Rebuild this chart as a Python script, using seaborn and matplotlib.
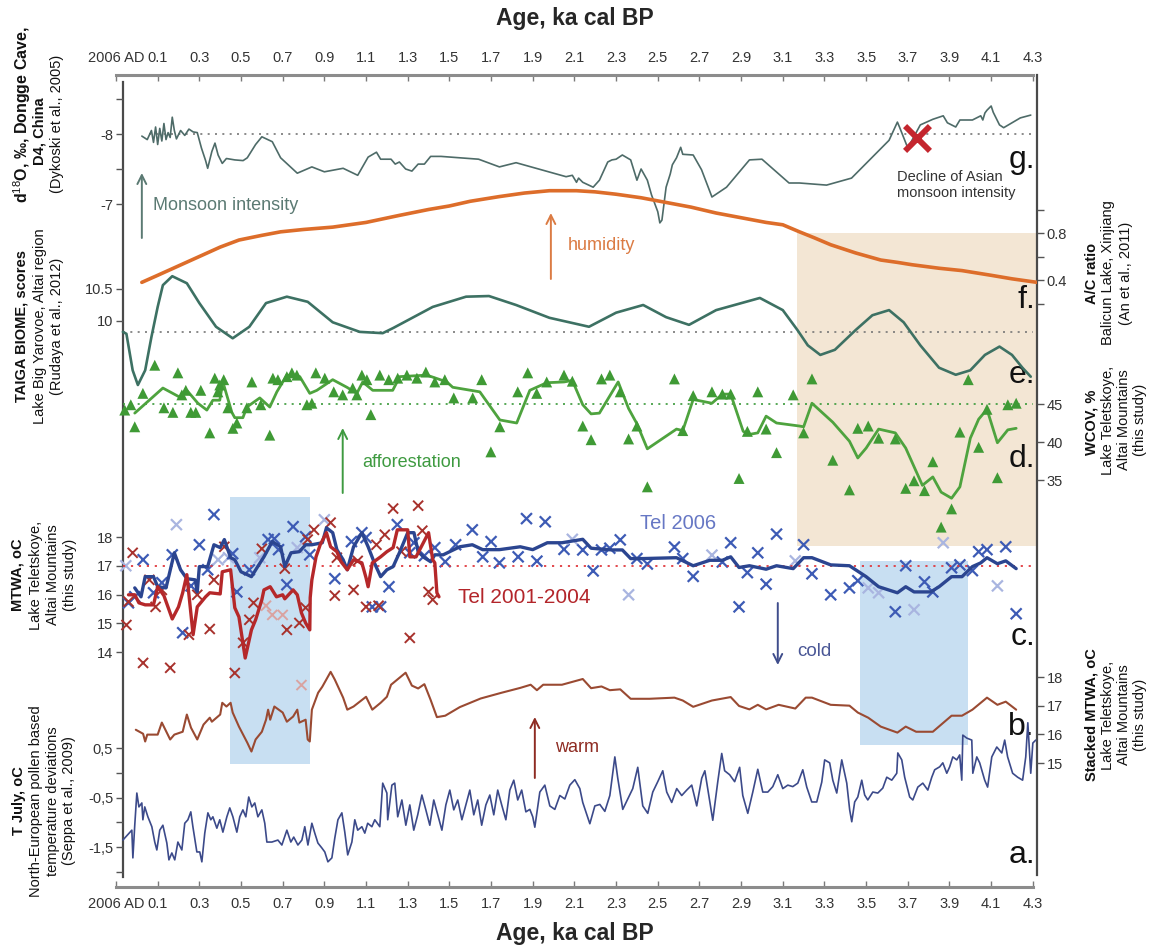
import numpy as np
import pandas as pd
import seaborn as sns
import matplotlib
matplotlib.use("Agg")
from matplotlib import pyplot as plt

# ---------------- data (ages in ka cal BP) ----------------
age_ticks = [-0.1, 0.1, 0.3, 0.5, 0.7, 0.9, 1.1, 1.3, 1.5, 1.7, 1.9, 2.1, 2.3,
             2.5, 2.7, 2.9, 3.1, 3.3, 3.5, 3.7, 3.9, 4.1, 4.3]
age_tick_labels = ["2006 AD"] + ["%.1f" % a for a in age_ticks[1:]]

# g. d18O Dongge Cave
g_d18o = np.array([
    [0.024, -7.97], [0.05, -7.92], [0.07, -8.05], [0.08, -7.88], [0.09, -8.10], [0.10, -7.85],
    [0.11, -8.08], [0.12, -7.90], [0.13, -8.15], [0.14, -7.92], [0.15, -8.02], [0.16, -7.95],
    [0.17, -8.24], [0.18, -8.05], [0.19, -7.93], [0.21, -8.05], [0.23, -7.98], [0.25, -8.07],
    [0.27, -8.03], [0.29, -8.02], [0.31, -7.80], [0.33, -7.62], [0.34, -7.51], [0.36, -7.75],
    [0.375, -7.87], [0.39, -7.70], [0.41, -7.58], [0.43, -7.65], [0.47, -7.63], [0.51, -7.62],
    [0.53, -7.66], [0.57, -7.85], [0.60, -7.96], [0.65, -7.89], [0.69, -7.66], [0.77, -7.44],
    [0.84, -7.53], [0.90, -7.46], [0.99, -7.51], [1.06, -7.41], [1.11, -7.67], [1.15, -7.74],
    [1.17, -7.64], [1.22, -7.64], [1.24, -7.57], [1.26, -7.60], [1.29, -7.50], [1.32, -7.47],
    [1.35, -7.57], [1.38, -7.57], [1.41, -7.68], [1.46, -7.68], [1.64, -7.64], [1.74, -7.53],
    [1.82, -7.59], [2.06, -7.39], [2.09, -7.41], [2.11, -7.31], [2.12, -7.37], [2.14, -7.31],
    [2.19, -7.24], [2.22, -7.34], [2.26, -7.60], [2.28, -7.63], [2.30, -7.64], [2.33, -7.70],
    [2.37, -7.63], [2.40, -7.34], [2.42, -7.50], [2.45, -7.34], [2.47, -7.13], [2.50, -6.89],
    [2.51, -6.73], [2.52, -6.77], [2.54, -7.24], [2.56, -7.43], [2.57, -7.56], [2.59, -7.66],
    [2.61, -7.81], [2.62, -7.71], [2.67, -7.70], [2.71, -7.49], [2.76, -7.10], [2.83, -7.24],
    [2.94, -7.63], [3.00, -7.64], [3.13, -7.30], [3.18, -7.30], [3.31, -7.27], [3.43, -7.37],
    [3.61, -7.91], [3.65, -8.17], [3.66, -8.10], [3.70, -7.80], [3.76, -8.13], [3.82, -8.21],
    [3.87, -8.26], [3.89, -8.16], [3.93, -8.10], [3.95, -8.20], [4.01, -8.20], [4.05, -8.26],
    [4.06, -8.20], [4.07, -8.30], [4.08, -8.34], [4.10, -8.40], [4.11, -8.31], [4.14, -8.13],
    [4.16, -8.09], [4.24, -8.23], [4.29, -8.27]])
g_ref = -8.0
decline_marker = [3.745, -7.94]

# f. A/C ratio Balicun Lake
f_ac = np.array([
    [0.024, 0.38], [0.1, 0.44], [0.2, 0.52], [0.3, 0.60], [0.4, 0.68], [0.49, 0.74], [0.6, 0.78],
    [0.69, 0.81], [0.8, 0.83], [0.94, 0.85], [1.1, 0.89], [1.26, 0.95], [1.4, 1.00], [1.5, 1.03],
    [1.6, 1.07], [1.74, 1.11], [1.86, 1.14], [1.98, 1.16], [2.11, 1.16], [2.2, 1.15], [2.3, 1.13],
    [2.42, 1.10], [2.54, 1.06], [2.66, 1.02], [2.78, 0.97], [2.9, 0.93], [3.02, 0.89], [3.1, 0.87],
    [3.18, 0.81], [3.25, 0.76], [3.33, 0.70], [3.45, 0.63], [3.57, 0.57], [3.65, 0.55],
    [3.72, 0.53], [3.85, 0.50], [3.96, 0.48], [4.1, 0.44], [4.2, 0.41], [4.32, 0.38]])

# e. TAIGA biome scores
e_taiga = np.array([
    [-0.067, 9.83], [-0.05, 9.80], [-0.02, 9.23], [0.005, 9.00], [0.04, 9.23], [0.07, 9.75],
    [0.10, 10.22], [0.125, 10.56], [0.17, 10.70], [0.24, 10.59], [0.30, 10.28], [0.38, 9.91],
    [0.46, 9.73], [0.54, 9.91], [0.62, 10.28], [0.72, 10.38], [0.82, 10.30], [0.94, 9.98],
    [1.07, 9.83], [1.18, 9.81], [1.23, 9.89], [1.42, 10.22], [1.58, 10.38], [1.69, 10.39],
    [1.82, 10.25], [1.98, 10.05], [2.17, 9.91], [2.30, 10.13], [2.43, 10.25], [2.54, 10.06],
    [2.65, 9.94], [2.78, 10.17], [2.99, 10.36], [3.10, 10.17], [3.17, 9.86], [3.22, 9.62],
    [3.28, 9.47], [3.35, 9.55], [3.45, 9.86], [3.53, 10.09], [3.61, 10.17], [3.68, 9.98],
    [3.76, 9.62], [3.85, 9.27], [3.93, 9.16], [4.00, 9.23], [4.07, 9.47], [4.14, 9.60],
    [4.20, 9.47], [4.25, 9.27], [4.29, 9.13]])
e_ref = 9.83

# d. WCOV % samples and smoothed curve
d_points = np.array([
    [-0.058, 44.2], [-0.029, 44.9], [-0.010, 42.0], [0.029, 46.4], [0.086, 50.1], [0.130, 44.5],
    [0.173, 43.9], [0.197, 49.1], [0.216, 46.2], [0.235, 46.8], [0.259, 43.9], [0.283, 43.9],
    [0.307, 46.8], [0.350, 41.2], [0.374, 48.4], [0.389, 46.6], [0.398, 47.5], [0.417, 48.2],
    [0.437, 44.5], [0.461, 41.8], [0.480, 42.5], [0.528, 44.5], [0.552, 47.9], [0.595, 44.9],
    [0.638, 40.9], [0.653, 48.4], [0.677, 48.2], [0.720, 48.6], [0.744, 49.1], [0.768, 48.8],
    [0.816, 44.9], [0.840, 45.1], [0.859, 49.1], [0.902, 48.4], [0.945, 46.6], [0.988, 46.2],
    [1.036, 47.1], [1.056, 46.2], [1.080, 48.8], [1.104, 48.2], [1.123, 43.6], [1.166, 48.8],
    [1.209, 48.2], [1.252, 48.4], [1.296, 48.8], [1.344, 48.4], [1.387, 49.2], [1.430, 47.9],
    [1.478, 48.2], [1.521, 45.8], [1.612, 45.8], [1.655, 48.2], [1.699, 38.7], [1.742, 42.0],
    [1.828, 46.6], [1.876, 49.1], [1.919, 46.4], [1.967, 47.9], [2.05, 48.8], [2.09, 48.0],
    [2.14, 42.1], [2.18, 40.3], [2.23, 48.3], [2.27, 48.8], [2.32, 46.6], [2.36, 40.4],
    [2.40, 42.1], [2.45, 34.1], [2.58, 48.3], [2.62, 41.5], [2.67, 46.1], [2.76, 46.6],
    [2.81, 46.3], [2.85, 46.3], [2.89, 35.2], [2.93, 41.4], [2.98, 46.6], [3.02, 41.7],
    [3.07, 38.6], [3.15, 46.2], [3.20, 41.2], [3.24, 48.3], [3.34, 37.6], [3.42, 33.7],
    [3.46, 41.8], [3.51, 42.1], [3.56, 40.5], [3.64, 40.4], [3.69, 33.9], [3.73, 34.9],
    [3.78, 33.6], [3.82, 37.4], [3.86, 28.8], [3.91, 31.2], [3.95, 41.3], [3.99, 48.2],
    [4.04, 39.3], [4.08, 44.3], [4.13, 35.3], [4.18, 44.9], [4.22, 45.1]])
d_curve = np.array([
    [-0.010, 43.8], [0.125, 47.1], [0.206, 45.9], [0.240, 46.8], [0.293, 45.1], [0.336, 44.2],
    [0.365, 45.5], [0.398, 45.5], [0.413, 47.9], [0.456, 43.9], [0.470, 43.2], [0.509, 43.2],
    [0.528, 44.6], [0.590, 45.8], [0.638, 44.6], [0.672, 46.6], [0.720, 48.8], [0.782, 48.6],
    [0.830, 46.4], [0.864, 46.8], [0.940, 48.2], [1.008, 47.2], [1.056, 46.4], [1.084, 47.9],
    [1.132, 46.8], [1.228, 46.8], [1.262, 48.6], [1.392, 48.8], [1.488, 47.9], [1.516, 47.2],
    [1.646, 46.6], [1.742, 42.9], [1.823, 42.5], [1.886, 46.8], [1.967, 47.8], [2.05, 47.9],
    [2.09, 48.1], [2.14, 44.9], [2.18, 43.7], [2.22, 43.8], [2.31, 47.9], [2.36, 44.4],
    [2.40, 42.4], [2.45, 39.1], [2.59, 41.7], [2.62, 41.5], [2.67, 45.6], [2.76, 45.1],
    [2.81, 46.3], [2.85, 46.3], [2.91, 41.4], [2.94, 41.0], [2.98, 41.2], [3.02, 43.4],
    [3.07, 42.5], [3.18, 42.1], [3.20, 42.0], [3.24, 45.1], [3.34, 42.6], [3.42, 40.1],
    [3.46, 37.9], [3.50, 39.2], [3.56, 41.7], [3.64, 41.2], [3.69, 39.2], [3.77, 34.3],
    [3.82, 35.4], [3.86, 33.4], [3.91, 32.6], [3.95, 34.1], [4.00, 40.5], [4.04, 43.0],
    [4.08, 44.3], [4.13, 39.9], [4.18, 41.6], [4.22, 41.8]])
d_ref = 45.0

# c. MTWA Lake Teletskoye: crosses (age, value, faint?) and running curves
tel2006_pts = np.array([
    [-0.053, 17.0, 1], [-0.04, 15.71, 0], [-0.01, 15.92, 0], [0.03, 17.21, 0], [0.08, 16.06, 0],
    [0.12, 16.41, 0], [0.17, 17.38, 0], [0.19, 18.43, 1], [0.22, 14.67, 0], [0.26, 16.30, 0],
    [0.30, 17.73, 0], [0.34, 16.86, 0], [0.37, 18.78, 0], [0.39, 17.21, 1], [0.44, 17.28, 1],
    [0.46, 17.42, 0], [0.48, 16.09, 0], [0.54, 16.86, 0], [0.59, 17.28, 1], [0.63, 17.91, 0],
    [0.66, 17.94, 0], [0.68, 17.56, 0], [0.72, 16.34, 0], [0.75, 18.36, 0], [0.77, 17.63, 1],
    [0.81, 18.01, 0], [0.83, 17.38, 0], [0.90, 18.60, 1], [0.95, 16.55, 0], [1.03, 17.84, 0],
    [1.08, 18.15, 0], [1.10, 17.98, 0], [1.13, 15.57, 0], [1.17, 15.57, 0], [1.21, 16.27, 0],
    [1.25, 18.43, 0], [1.31, 17.45, 0], [1.33, 17.80, 0], [1.38, 17.35, 0], [1.43, 17.63, 0],
    [1.48, 17.14, 0], [1.53, 17.73, 0], [1.61, 18.25, 0], [1.66, 17.31, 0], [1.70, 17.84, 0],
    [1.74, 17.10, 0], [1.83, 17.31, 0], [1.87, 18.64, 0], [1.92, 17.16, 0], [1.96, 18.53, 0],
    [2.05, 17.57, 0], [2.09, 17.92, 1], [2.14, 17.55, 0], [2.19, 16.82, 0], [2.23, 17.55, 0],
    [2.27, 17.61, 0], [2.32, 17.90, 0], [2.36, 15.99, 1], [2.40, 17.25, 0], [2.45, 17.06, 0],
    [2.58, 17.65, 0], [2.62, 17.25, 0], [2.67, 16.63, 0], [2.76, 17.37, 1], [2.81, 17.13, 0],
    [2.85, 17.80, 0], [2.89, 15.57, 0], [2.93, 16.76, 0], [2.98, 17.45, 0], [3.02, 16.36, 0],
    [3.07, 18.10, 0], [3.16, 17.17, 1], [3.20, 17.73, 0], [3.24, 16.72, 0], [3.33, 15.99, 0],
    [3.42, 16.23, 0], [3.46, 16.48, 0], [3.51, 16.23, 1], [3.56, 16.06, 1], [3.64, 15.40, 0],
    [3.69, 17.00, 0], [3.73, 15.47, 1], [3.78, 16.44, 0], [3.82, 16.09, 0], [3.87, 17.80, 1],
    [3.91, 16.93, 0], [3.95, 17.03, 0], [4.01, 16.83, 0], [4.04, 17.49, 0], [4.08, 17.56, 0],
    [4.13, 16.30, 1], [4.17, 17.66, 0], [4.22, 15.33, 0]])
tel2001_pts = np.array([
    [-0.05, 14.94, 0], [-0.04, 15.75, 0], [-0.02, 17.45, 0], [0.03, 13.62, 0], [0.06, 16.51, 0],
    [0.09, 15.57, 0], [0.12, 16.16, 0], [0.16, 13.45, 0], [0.25, 14.60, 0], [0.29, 15.99, 0],
    [0.35, 14.80, 0], [0.37, 16.51, 0], [0.42, 17.66, 0], [0.47, 13.27, 0], [0.51, 14.32, 0],
    [0.54, 15.12, 0], [0.56, 15.71, 0], [0.60, 17.59, 0], [0.62, 15.61, 1], [0.65, 15.29, 1],
    [0.70, 15.29, 1], [0.71, 16.90, 0], [0.72, 14.77, 0], [0.78, 15.01, 0], [0.79, 12.85, 1],
    [0.81, 15.54, 0], [0.82, 17.91, 0], [0.85, 18.25, 0], [0.93, 18.50, 0], [0.95, 15.96, 0],
    [0.96, 17.28, 0], [1.04, 16.16, 0], [1.06, 17.17, 0], [1.10, 15.57, 0], [1.15, 17.73, 0],
    [1.16, 15.61, 0], [1.19, 18.08, 0], [1.23, 18.99, 0], [1.27, 17.49, 0], [1.31, 14.49, 0],
    [1.35, 19.09, 0], [1.37, 18.22, 0], [1.40, 16.09, 0], [1.42, 15.82, 0]])
tel2006_curve = np.array([
    [-0.01, 16.23], [0.02, 15.92], [0.04, 16.62], [0.08, 16.62], [0.10, 16.27], [0.14, 16.23],
    [0.18, 17.45], [0.21, 16.86], [0.24, 16.55], [0.28, 16.51], [0.29, 16.09], [0.30, 16.97],
    [0.34, 16.97], [0.37, 17.73], [0.40, 17.63], [0.42, 17.91], [0.45, 17.28], [0.47, 17.21],
    [0.50, 16.79], [0.53, 16.69], [0.55, 16.62], [0.58, 16.97], [0.61, 17.31], [0.65, 17.84],
    [0.69, 17.66], [0.71, 16.97], [0.74, 17.45], [0.78, 17.49], [0.81, 17.73], [0.84, 17.73],
    [0.89, 17.80], [0.91, 18.32], [0.94, 18.15], [0.96, 17.56], [0.99, 17.21], [1.01, 16.86],
    [1.04, 17.66], [1.08, 18.15], [1.11, 17.66], [1.14, 17.10], [1.17, 16.62], [1.20, 16.86],
    [1.23, 16.97], [1.26, 17.45], [1.30, 18.15], [1.33, 18.15], [1.35, 17.49], [1.38, 17.28],
    [1.41, 17.14], [1.43, 17.38], [1.47, 17.38], [1.55, 17.66], [1.61, 17.73], [1.66, 17.56],
    [1.74, 17.56], [1.84, 17.66], [1.90, 17.56], [1.97, 17.80], [2.04, 17.80], [2.14, 17.92],
    [2.18, 17.61], [2.28, 17.55], [2.33, 17.55], [2.37, 17.25], [2.43, 17.25], [2.59, 17.28],
    [2.67, 17.00], [2.75, 17.19], [2.81, 17.19], [2.85, 17.31], [2.89, 16.94], [2.94, 17.00],
    [3.02, 16.88], [3.07, 17.00], [3.15, 16.90], [3.20, 17.28], [3.24, 17.28], [3.33, 17.03],
    [3.42, 17.00], [3.50, 16.62], [3.56, 16.27], [3.65, 16.06], [3.69, 16.27], [3.73, 16.09],
    [3.81, 16.09], [3.85, 16.27], [3.91, 16.62], [3.96, 16.62], [4.01, 16.97], [4.05, 17.10],
    [4.08, 17.28], [4.13, 17.07], [4.17, 17.17], [4.22, 16.90]])
tel2001_curve = np.array([
    [-0.04, 15.99], [-0.01, 15.99], [0.01, 15.71], [0.04, 15.64], [0.08, 15.64], [0.10, 16.27],
    [0.13, 15.96], [0.17, 15.15], [0.20, 15.57], [0.22, 16.06], [0.24, 16.69], [0.27, 14.60],
    [0.29, 15.57], [0.33, 15.92], [0.35, 16.06], [0.40, 16.02], [0.41, 16.79], [0.45, 16.86],
    [0.47, 15.54], [0.49, 15.22], [0.52, 13.79], [0.55, 14.77], [0.57, 15.12], [0.60, 15.82],
    [0.61, 16.16], [0.64, 16.27], [0.67, 15.92], [0.70, 15.99], [0.71, 15.85], [0.75, 16.16],
    [0.77, 15.99], [0.79, 15.36], [0.81, 15.01], [0.83, 14.77], [0.832, 15.89], [0.84, 16.51],
    [0.86, 17.31], [0.88, 17.73], [0.91, 18.15], [0.93, 17.66], [0.96, 17.49], [0.98, 17.14],
    [1.01, 16.86], [1.04, 17.21], [1.08, 17.10], [1.10, 16.58], [1.11, 16.27], [1.13, 17.10],
    [1.17, 17.31], [1.20, 17.49], [1.23, 17.63], [1.25, 18.25], [1.30, 18.25], [1.31, 17.31],
    [1.34, 17.31], [1.37, 17.73], [1.40, 18.15], [1.42, 17.21], [1.43, 17.10], [1.44, 16.06],
    [1.45, 15.92]])
c_ref = 17.0

# b. stacked MTWA
b_stacked = np.array([
    [-0.005, 16.16], [0.03, 16.02], [0.04, 15.75], [0.05, 15.99], [0.10, 15.99], [0.12, 16.41],
    [0.16, 15.82], [0.18, 15.99], [0.22, 16.09], [0.24, 16.69], [0.26, 16.23], [0.29, 15.82],
    [0.32, 16.34], [0.35, 16.58], [0.36, 16.44], [0.40, 16.69], [0.41, 17.10], [0.43, 16.97],
    [0.45, 17.10], [0.46, 16.76], [0.49, 16.27], [0.53, 15.71], [0.55, 15.40], [0.57, 15.82],
    [0.60, 16.09], [0.62, 16.51], [0.63, 16.86], [0.64, 16.51], [0.66, 16.97], [0.70, 16.76],
    [0.72, 16.44], [0.75, 16.62], [0.77, 16.86], [0.78, 16.41], [0.81, 16.51], [0.82, 15.82],
    [0.83, 15.75], [0.84, 16.86], [0.87, 17.45], [0.89, 17.66], [0.93, 18.18], [0.95, 17.91],
    [0.99, 17.28], [1.01, 16.86], [1.04, 16.97], [1.07, 17.14], [1.10, 17.31], [1.13, 16.86],
    [1.17, 17.10], [1.20, 17.31], [1.22, 17.73], [1.25, 17.91], [1.29, 18.15], [1.32, 17.70],
    [1.35, 17.60], [1.38, 17.75], [1.41, 17.20], [1.44, 16.60], [1.48, 16.65], [1.55, 16.95],
    [1.65, 17.25], [1.75, 17.45], [1.84, 17.62], [1.89, 17.73], [1.92, 17.54], [1.95, 17.73],
    [2.04, 17.73], [2.14, 17.93], [2.18, 17.61], [2.23, 17.67], [2.27, 17.54], [2.32, 17.57],
    [2.37, 17.24], [2.46, 17.24], [2.58, 17.28], [2.62, 17.18], [2.67, 16.96], [2.76, 17.18],
    [2.85, 17.30], [2.89, 16.99], [2.94, 16.87], [2.98, 17.03], [3.02, 16.87], [3.08, 17.03],
    [3.16, 16.90], [3.21, 17.28], [3.24, 17.28], [3.33, 17.03], [3.42, 17.00], [3.46, 16.76],
    [3.51, 16.58], [3.57, 16.27], [3.65, 16.06], [3.69, 16.27], [3.74, 16.09], [3.82, 16.09],
    [3.91, 16.65], [3.96, 16.65], [4.01, 16.86], [4.08, 17.28], [4.13, 17.03], [4.17, 17.14],
    [4.22, 16.86]])

# a. T July deviations, North-European pollen
a_tjuly = np.array([
    [-0.067, -1.36], [-0.024, -1.16], [-0.019, -1.72], [-0.010, -1.06], [0.0, -0.41], [0.010, -0.69],
    [0.024, -0.61], [0.029, -0.95], [0.038, -0.69], [0.053, -0.89], [0.072, -1.09], [0.086, -1.40],
    [0.096, -1.56], [0.110, -1.16], [0.125, -1.06], [0.144, -1.42], [0.154, -1.76], [0.168, -1.62],
    [0.182, -1.76], [0.197, -1.40], [0.216, -1.56], [0.230, -1.02], [0.245, -0.95], [0.259, -0.79],
    [0.269, -1.09], [0.288, -1.60], [0.302, -1.60], [0.312, -1.80], [0.326, -1.22], [0.341, -0.81],
    [0.355, -0.95], [0.365, -0.89], [0.384, -1.12], [0.398, -0.95], [0.413, -1.20], [0.432, -0.89],
    [0.446, -0.71], [0.461, -0.89], [0.480, -1.20], [0.494, -0.89], [0.509, -0.75], [0.523, -0.89],
    [0.537, -0.49], [0.552, -0.69], [0.566, -0.61], [0.581, -0.89], [0.600, -0.75], [0.614, -1.02],
    [0.624, -1.40], [0.648, -1.40], [0.677, -1.36], [0.696, -1.46], [0.720, -1.16], [0.739, -1.40],
    [0.753, -1.30], [0.773, -1.46], [0.792, -1.36], [0.806, -1.09], [0.821, -1.46], [0.840, -1.02],
    [0.854, -1.22], [0.869, -1.42], [0.888, -1.52], [0.902, -1.60], [0.917, -1.80], [0.936, -1.72],
    [0.950, -1.32], [0.965, -0.95], [0.984, -0.81], [0.998, -1.20], [1.012, -1.66], [1.032, -1.40],
    [1.046, -0.95], [1.060, -1.16], [1.080, -1.09], [1.094, -1.22], [1.108, -1.02], [1.128, -1.09],
    [1.142, -0.95], [1.166, -1.09], [1.180, -0.21], [1.200, -0.41], [1.204, -0.95], [1.224, -0.25],
    [1.238, -0.21], [1.252, -0.89], [1.272, -0.55], [1.291, -1.06], [1.310, -0.65], [1.329, -1.16],
    [1.348, -0.85], [1.368, -0.45], [1.387, -0.75], [1.406, -1.06], [1.425, -0.55], [1.444, -0.85],
    [1.464, -1.16], [1.483, -0.65], [1.502, -0.35], [1.521, -0.75], [1.540, -0.55], [1.560, -0.95],
    [1.579, -0.65], [1.598, -0.35], [1.617, -0.85], [1.636, -0.55], [1.655, -1.06], [1.675, -0.65],
    [1.694, -0.45], [1.713, -0.85], [1.732, -0.35], [1.751, -0.65], [1.771, -0.95], [1.790, -0.35],
    [1.809, -0.15], [1.828, -0.55], [1.847, -0.35], [1.867, -0.79], [1.886, -0.74], [1.900, -0.89],
    [1.910, -1.10], [1.934, -0.39], [1.958, -0.25], [1.982, -0.67], [2.006, -0.74], [2.030, -0.46],
    [2.054, -0.53], [2.078, -0.25], [2.102, -0.14], [2.126, -0.32], [2.140, -0.60], [2.174, -1.03],
    [2.198, -0.67], [2.222, -0.64], [2.246, -0.78], [2.270, -0.46], [2.294, 0.32], [2.308, -0.11],
    [2.332, -0.74], [2.356, -0.53], [2.380, -0.32], [2.404, 0.11], [2.428, -0.67], [2.452, -0.82],
    [2.476, -0.39], [2.500, -0.18], [2.524, 0.04], [2.543, -0.39], [2.567, -0.60], [2.591, -0.32],
    [2.615, -0.46], [2.639, -0.35], [2.663, -0.25], [2.687, -0.67], [2.711, -0.11], [2.726, 0.04],
    [2.750, -0.60], [2.764, -0.96], [2.788, -0.18], [2.807, 0.39], [2.821, 0.04], [2.845, -0.04],
    [2.869, -0.18], [2.893, 0.11], [2.908, -0.46], [2.932, -0.82], [2.956, -0.39], [2.980, 0.07],
    [3.004, -0.39], [3.028, -0.39], [3.052, -0.28], [3.076, -0.04], [3.100, -0.32], [3.124, -0.25],
    [3.148, -0.28], [3.172, -0.21], [3.196, 0.06], [3.215, -0.29], [3.239, -0.59], [3.263, -0.59],
    [3.287, -0.19], [3.301, 0.26], [3.325, 0.20], [3.340, -0.15], [3.359, -0.41], [3.383, 0.26],
    [3.407, -0.21], [3.421, -0.75], [3.431, -0.99], [3.445, -0.59], [3.460, -0.49], [3.479, -0.15],
    [3.493, -0.45], [3.508, -0.55], [3.532, -0.39], [3.556, -0.41], [3.580, -0.31], [3.599, -0.09],
    [3.623, -0.15], [3.647, -0.01], [3.652, 0.40], [3.671, 0.26], [3.685, -0.09], [3.709, -0.49],
    [3.724, -0.55], [3.748, -0.29], [3.772, -0.21], [3.796, -0.35], [3.815, -0.09], [3.829, 0.06],
    [3.853, 0.12], [3.868, 0.20], [3.887, -0.01], [3.901, 0.12], [3.916, 0.32], [3.935, 0.26],
    [3.949, 0.36], [3.959, -0.15], [3.964, 0.76], [3.983, 0.70], [4.007, 0.66], [4.012, -0.01],
    [4.031, 0.32], [4.045, 0.20], [4.069, -0.15], [4.083, -0.29], [4.103, 0.32], [4.127, 0.52],
    [4.151, 0.40], [4.165, 0.66], [4.179, 0.32], [4.203, -0.01], [4.227, -0.09], [4.251, -0.15],
    [4.266, 0.32], [4.276, 1.01], [4.290, -0.01], [4.300, 0.60], [4.314, 0.66]])

# shaded intervals (age ranges)
cold_spans = [(0.446, 0.830), (3.469, 3.988)]
dry_span = (3.167, 4.32)

# ---------------- layout helpers (pixel rows of the reference) ----------------
FIG_W, FIG_H = 1151, 947
AX_TOP, AX_BOTTOM = 75, 887
X_LEFT, X_RIGHT = -0.1, 4.32
SPINE_X = -0.067


def frac(row):
    return (AX_BOTTOM - row) / (AX_BOTTOM - AX_TOP)


def scale_to_rows(ax, v1, row1, v2, row2):
    f1, f2 = frac(row1), frac(row2)
    slope = (v2 - v1) / (f2 - f1)
    ax.set_ylim(v1 - slope * f1, v1 + slope * (1 - f1))


def overlay(fig, rect, side):
    ax = fig.add_axes(rect, facecolor="none")
    ax.set_xlim(X_LEFT, X_RIGHT)
    for s in ax.spines.values():
        s.set_visible(False)
    ax.tick_params(axis="x", which="both", bottom=False, top=False,
                   labelbottom=False, labeltop=False)
    if side == "left":
        ax.spines["left"].set_position(("data", SPINE_X))
        ax.yaxis.set_ticks_position("left")
    else:
        ax.yaxis.set_ticks_position("right")
    ax.tick_params(axis="y", direction="out", length=5, width=1, color="#555555",
                   labelsize=10.5, labelcolor="#333333", pad=2)
    ax.grid(False)
    return ax


def fig_text(fig, x_px, y_px, s, **kw):
    fig.text(x_px / FIG_W, 1 - y_px / FIG_H, s, **kw)


sns.set_style("white")
plt.rcParams["font.family"] = ["Liberation Sans", "DejaVu Sans"]
plt.rcParams["mathtext.fontset"] = "custom"
plt.rcParams["mathtext.rm"] = "Liberation Sans"
plt.rcParams["mathtext.bf"] = "Liberation Sans:bold"

fig = plt.figure(figsize=(FIG_W / 100, FIG_H / 100), dpi=100)
rect = [116 / FIG_W, 1 - AX_BOTTOM / FIG_H, (1037 - 116) / FIG_W, (AX_BOTTOM - AX_TOP) / FIG_H]

# ---------------- base axes: age axes, spines, shading, annotations ----------------
base = fig.add_axes(rect)
base.set_xlim(X_LEFT, X_RIGHT)
base.set_ylim(0, 1)
base.set_yticks([])
base.set_xticks(age_ticks)
base.set_xticklabels(age_tick_labels)
base.tick_params(axis="x", top=True, labeltop=True, bottom=True, labelbottom=True,
                 direction="in", length=4, width=1, color="#7a7a7a",
                 labelsize=10.5, labelcolor="#333333", pad=7)
for side in ("top", "bottom"):
    base.spines[side].set_color("#8c8c8c")
    base.spines[side].set_linewidth(2.2)
    base.spines[side].set_bounds(-0.1, 4.3)
base.spines["left"].set_position(("data", SPINE_X))
base.spines["left"].set_bounds(frac(877), frac(82))
base.spines["right"].set_bounds(frac(875), frac(75))
for side in ("left", "right"):
    base.spines[side].set_color("#4a4a4a")
    base.spines[side].set_linewidth(1.6)

base.axvspan(dry_span[0], dry_span[1], ymin=frac(546), ymax=frac(233),
             color="#f3e6d4", lw=0, zorder=0)
base.axvspan(cold_spans[0][0], cold_spans[0][1], ymin=frac(764), ymax=frac(497),
             color="#c8dff2", lw=0, zorder=0)
base.axvspan(cold_spans[1][0], cold_spans[1][1], ymin=frac(745), ymax=frac(561),
             color="#c8dff2", lw=0, zorder=0)

trans = base.get_xaxis_transform()
arrows = [  # age, tail row, tip row, colour
    (0.024, 238, 173, "#5b7a73"),
    (1.987, 279, 213, "#db7b43"),
    (0.988, 493, 428, "#3e9a40"),
    (3.076, 603, 665, "#3f4d8c"),
    (1.910, 778, 717, "#8e2b22"),
]
for x, r0, r1, col in arrows:
    base.annotate("", xy=(x, frac(r1)), xytext=(x, frac(r0)), xycoords=trans,
                  textcoords=trans,
                  arrowprops=dict(arrowstyle="->", color=col, lw=1.4,
                                  shrinkA=0, shrinkB=0, mutation_scale=16))

notes = [  # text, age, row, colour, size
    ("Monsoon intensity", 0.077, 205, "#5b7a73", 13),
    ("humidity", 2.068, 245, "#db7b43", 13),
    ("afforestation", 1.080, 462, "#3e9a40", 13),
    ("Tel 2006", 2.414, 523, "#6677c4", 14.5),
    ("Tel 2001-2004", 1.540, 597, "#b3252a", 15),
    ("cold", 3.170, 651, "#4a5796", 13.5),
    ("warm", 2.006, 747, "#8e2b22", 13),
    ("Decline of Asian\nmonsoon intensity", 3.647, 185, "#333333", 10.5),
]
for s, x, r, col, size in notes:
    base.text(x, frac(r), s, transform=trans, color=col, fontsize=size,
              ha="left", va="center", linespacing=1.15)

letters = [("g.", 168), ("f.", 308), ("e.", 383), ("d.", 467), ("c.", 645), ("b.", 735), ("a.", 863)]
for s, r in letters:
    base.text(4.31, frac(r), s, transform=trans, fontsize=23, color="#111111",
              ha="right", va="baseline")

# ---------------- series overlays ----------------
dots = (0, (1.2, 3.2))

ax_g = overlay(fig, rect, "left")
scale_to_rows(ax_g, -8, 134, -7, 204)
ax_g.hlines(g_ref, 0.06, 4.3, colors="#777777", linestyles=dots, lw=1.2)
sns.lineplot(x=g_d18o[:, 0], y=g_d18o[:, 1], ax=ax_g, color="#4e6b68", lw=1.2,
             estimator=None, sort=False)
sns.scatterplot(x=[decline_marker[0]], y=[decline_marker[1]], ax=ax_g, marker="x",
                s=320, linewidth=4.2, color="#c4262e", legend=False, zorder=5)
ax_g.set_yticks([-8.5, -8, -7.5, -7])
ax_g.set_yticklabels(["", "-8", "", "-7"])

ax_f = overlay(fig, rect, "right")
scale_to_rows(ax_f, 0.8, 233, 0.4, 280)
sns.lineplot(x=f_ac[:, 0], y=f_ac[:, 1], ax=ax_f, color="#dd6d2a", lw=2.6,
             estimator=None, sort=False)
ax_f.set_yticks([1.0, 0.8, 0.6, 0.4, 0.2])
ax_f.set_yticklabels(["", "0.8", "", "0.4", ""])

ax_e = overlay(fig, rect, "left")
scale_to_rows(ax_e, 10.5, 289, 10, 321)
ax_e.hlines(e_ref, SPINE_X, 4.3, colors="#777777", linestyles=dots, lw=1.2)
sns.lineplot(x=e_taiga[:, 0], y=e_taiga[:, 1], ax=ax_e, color="#3d7163", lw=1.9,
             estimator=None, sort=False)
ax_e.set_yticks([10.5, 10])
ax_e.set_yticklabels(["10.5", "10"])

ax_d = overlay(fig, rect, "right")
scale_to_rows(ax_d, 45, 404, 40, 442)
ax_d.hlines(d_ref, SPINE_X, 4.3, colors="#3a9a3a", linestyles=dots, lw=1.2)
sns.lineplot(x=d_curve[:, 0], y=d_curve[:, 1], ax=ax_d, color="#4ea33e", lw=2.0,
             estimator=None, sort=False)
sns.scatterplot(x=d_points[:, 0], y=d_points[:, 1], ax=ax_d, marker="^", s=62,
                color="#3f9a35", edgecolor="none", legend=False, zorder=4)
ax_d.set_yticks([45, 40, 35])

ax_c = overlay(fig, rect, "left")
scale_to_rows(ax_c, 18, 537, 14, 652)
ax_c.hlines(c_ref, SPINE_X, 4.3, colors="#e0393e", linestyles=dots, lw=1.3)
pts06 = pd.DataFrame(tel2006_pts, columns=["age", "mtwa", "faint"])
pts06["shade"] = np.where(pts06["faint"] > 0, "faint", "dark")
pts01 = pd.DataFrame(tel2001_pts, columns=["age", "mtwa", "faint"])
pts01["shade"] = np.where(pts01["faint"] > 0, "faint", "dark")
sns.scatterplot(data=pts06, x="age", y="mtwa", hue="shade", ax=ax_c, marker="x", s=62,
                linewidth=1.6, palette={"dark": "#3d5bb5", "faint": "#a9b5e0"}, legend=False)
sns.scatterplot(data=pts01, x="age", y="mtwa", hue="shade", ax=ax_c, marker="x", s=52,
                linewidth=1.4, palette={"dark": "#a8322d", "faint": "#d9a3a1"}, legend=False)
sns.lineplot(x=tel2006_curve[:, 0], y=tel2006_curve[:, 1], ax=ax_c, color="#2b4590", lw=2.4,
             estimator=None, sort=False)
sns.lineplot(x=tel2001_curve[:, 0], y=tel2001_curve[:, 1], ax=ax_c, color="#b5282a", lw=2.4,
             estimator=None, sort=False)
ax_c.set_yticks([18, 17, 16, 15, 14])

ax_b = overlay(fig, rect, "right")
scale_to_rows(ax_b, 18, 677, 15, 763)
sns.lineplot(x=b_stacked[:, 0], y=b_stacked[:, 1], ax=ax_b, color="#9a4a32", lw=1.5,
             estimator=None, sort=False)
ax_b.set_yticks([18, 17, 16, 15])

ax_a = overlay(fig, rect, "left")
scale_to_rows(ax_a, 0.5, 748, -1.5, 847)
sns.lineplot(x=a_tjuly[:, 0], y=a_tjuly[:, 1], ax=ax_a, color="#3c4a8a", lw=1.2,
             estimator=None, sort=False)
ax_a.set_yticks([0.5, 0, -0.5, -1, -1.5, -2])
ax_a.set_yticklabels(["0,5", "", "-0,5", "", "-1,5", ""])

for ax in (ax_g, ax_f, ax_e, ax_d, ax_c, ax_b, ax_a):
    ax.set_xlabel("")
    ax.set_ylabel("")

# ---------------- axis titles and side labels ----------------
fig_text(fig, 575, 18, "Age, ka cal BP", fontsize=16.5, fontweight="bold", ha="center", va="center")
fig_text(fig, 575, 933, "Age, ka cal BP", fontsize=16.5, fontweight="bold", ha="center", va="center")

side_labels = [  # text, weight, x px, centre row px, size
    ("d$^{18}$O, ‰, Dongge Cave,", "bold", 22, 115, 11.5),
    ("D4, China", "bold", 40, 131, 10.5),
    ("(Dykoski et al., 2005)", "normal", 57, 124, 10.5),
    ("TAIGA BIOME, scores", "bold", 22, 326, 10.5),
    ("Lake Big Yarovoe, Altai region", "normal", 40, 326, 10.5),
    ("(Rudaya et al., 2012)", "normal", 57, 326, 10.5),
    ("MTWA, oC", "bold", 18, 575, 10.5),
    ("Lake Teletskoye,", "normal", 36, 575, 10.5),
    ("Altai Mountains", "normal", 53, 575, 10.5),
    ("(this study)", "normal", 70, 575, 10.5),
    ("T July, oC", "bold", 19, 801, 10.5),
    ("North-European pollen based", "normal", 36, 801, 10.5),
    ("temperature deviations", "normal", 53, 801, 10.5),
    ("(Seppa et al., 2009)", "normal", 69, 801, 10.5),
    ("A/C ratio", "bold", 1092, 273, 10.5),
    ("Balicun Lake, Xinjiang", "normal", 1108, 273, 10.5),
    ("(An et al., 2011)", "normal", 1126, 273, 10.5),
    ("WCOV, %", "bold", 1092, 422, 10.5),
    ("Lake Teletskoye,", "normal", 1108, 420, 10.5),
    ("Altai Mountains", "normal", 1124, 420, 10.5),
    ("(this study)", "normal", 1140, 420, 10.5),
    ("Stacked MTWA, oC", "bold", 1092, 715, 10.5),
    ("Lake Teletskoye,", "normal", 1108, 715, 10.5),
    ("Altai Mountains", "normal", 1124, 715, 10.5),
    ("(this study)", "normal", 1140, 715, 10.5),
]
for s, w, x, r, size in side_labels:
    fig_text(fig, x, r, s, rotation=90, fontsize=size, fontweight=w, color="#111111",
             ha="center", va="center")

fig.savefig("out.png", dpi=100)
